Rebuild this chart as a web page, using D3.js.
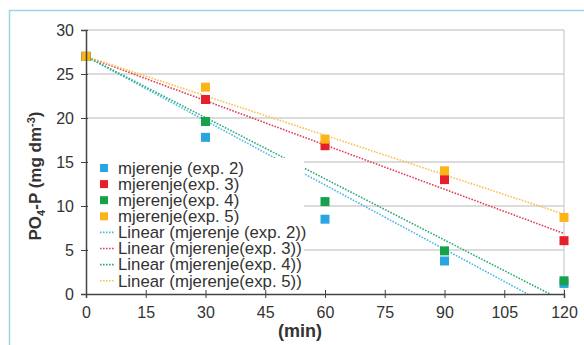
<!DOCTYPE html>
<html>
<head>
<meta charset="utf-8">
<script src="https://cdn.jsdelivr.net/npm/d3@7"></script>
<style>
  body { margin: 0; background: #fff; }
  svg { display: block; font-family: "Liberation Sans", Arial, sans-serif; }
  .tick text { font-size: 16px; fill: #333; }
</style>
</head>
<body>
<script>
// measurement times (min)
var times = [0, 30, 60, 90, 120];

// PO4-P concentration, one list per experiment
var exp2 = [27, 17.8, 8.5, 3.75, 1.2];
var exp3 = [27, 22.1, 16.85, 13.0, 6.06];
var exp4 = [27, 19.6, 10.5, 4.9, 1.5];
var exp5 = [27, 23.5, 17.6, 14.0, 8.7];

var seriesNames = ["mjerenje (exp. 2)", "mjerenje(exp. 3)", "mjerenje(exp. 4)", "mjerenje(exp. 5)"];
var trendNames = ["Linear (mjerenje (exp. 2))", "Linear (mjerenje(exp. 3))",
                  "Linear (mjerenje(exp. 4))", "Linear (mjerenje(exp. 5))"];
var xTicks = [0, 15, 30, 45, 60, 75, 90, 105, 120];
var yTicks = [0, 5, 10, 15, 20, 25, 30];

var markColors = ["#2aa5e0", "#e5202b", "#14a34b", "#fbb517"];
var lineColors = ["#4fb8e6", "#e0405a", "#2eab78", "#fbc050"];

var width = 584, height = 345;
var margin = {top: 30, right: 20, bottom: 51, left: 86};

var svg = d3.select("body").append("svg")
    .attr("width", width)
    .attr("height", height);

// light blue frame (left and top only)
svg.append("path")
    .attr("d", "M9.5,345V10.5H584")
    .attr("fill", "none")
    .attr("stroke", "#9dd6e3")
    .attr("stroke-width", 1.5);

var x = d3.scaleLinear().domain([0, 120]).range([margin.left, width - margin.right]);
var y = d3.scaleLinear().domain([0, 30]).range([height - margin.bottom, margin.top]);

// gridlines
svg.append("g").selectAll("line")
    .data(yTicks.filter(function(d) { return d > 0; }))
    .enter().append("line")
    .attr("x1", x(0)).attr("x2", x(120))
    .attr("y1", function(d) { return y(d); })
    .attr("y2", function(d) { return y(d); })
    .attr("stroke", "#cfcfcf")
    .attr("stroke-width", 1.3);

// right border of plot area
svg.append("line")
    .attr("x1", x(120)).attr("x2", x(120))
    .attr("y1", y(30)).attr("y2", y(0))
    .attr("stroke", "#cfcfcf")
    .attr("stroke-width", 1.3);

var allSeries = [exp2, exp3, exp4, exp5];

// linear trendlines with intercept fixed at the start value
var trends = allSeries.map(function(vals, i) {
  var b = vals[0], num = 0, den = 0;
  times.forEach(function(t, j) { num += t * (vals[j] - b); den += t * t; });
  var slope = num / den;
  var xEnd = slope < 0 ? Math.min(120, -b / slope) : 120;
  return {i: i, pts: [[0, b], [xEnd, b + slope * xEnd]]};
});

var line = d3.line()
    .x(function(d) { return x(d[0]); })
    .y(function(d) { return y(d[1]); });

svg.append("g").selectAll("path")
    .data(trends)
    .enter().append("path")
    .attr("d", function(d) { return line(d.pts); })
    .attr("fill", "none")
    .attr("stroke", function(d) { return lineColors[d.i]; })
    .attr("stroke-width", 1.6)
    .attr("stroke-dasharray", "1.6,1.4");

// markers
var s = 9;
allSeries.forEach(function(vals, i) {
  svg.append("g").selectAll("rect")
      .data(vals)
      .enter().append("rect")
      .attr("x", function(d, j) { return x(times[j]) - s / 2; })
      .attr("y", function(d) { return y(d) - s / 2; })
      .attr("width", s).attr("height", s)
      .attr("fill", markColors[i]);
});

// legend box
var lg = svg.append("g");
lg.append("rect")
    .attr("x", 88).attr("y", 158)
    .attr("width", 216).attr("height", 133)
    .attr("fill", "#fff");

var rowY = function(k) { return 168 + k * 16.1; };
seriesNames.forEach(function(n, i) {
  lg.append("rect")
      .attr("x", 100).attr("y", rowY(i) - 4)
      .attr("width", 8).attr("height", 8)
      .attr("fill", markColors[i]);
  lg.append("text")
      .attr("x", 118).attr("y", rowY(i))
      .attr("dy", "0.35em")
      .attr("font-size", 16.8)
      .attr("fill", "#333")
      .text(n);
});
trendNames.forEach(function(n, i) {
  var yy = rowY(i + 4);
  lg.append("line")
      .attr("x1", 100).attr("x2", 115)
      .attr("y1", yy).attr("y2", yy)
      .attr("stroke", lineColors[i])
      .attr("stroke-width", 1.6)
      .attr("stroke-dasharray", "1.6,1.4");
  lg.append("text")
      .attr("x", 118).attr("y", yy)
      .attr("dy", "0.35em")
      .attr("font-size", 16.8)
      .attr("fill", "#333")
      .text(n);
});

// axes
var xAxis = svg.append("g")
    .attr("transform", "translate(0," + y(0) + ")")
    .call(d3.axisBottom(x).tickValues(xTicks).tickSize(4).tickPadding(9));
xAxis.selectAll(".tick line").attr("y1", -4).attr("stroke", "#444");
xAxis.select(".domain").attr("stroke", "#444").attr("stroke-width", 1.5);

var yAxis = svg.append("g")
    .attr("transform", "translate(" + x(0) + ",0)")
    .call(d3.axisLeft(y).tickValues(yTicks).tickSize(5).tickPadding(7));
yAxis.selectAll(".tick line").attr("x1", -5).attr("x2", 2).attr("stroke", "#444");
yAxis.select(".domain").attr("stroke", "#444").attr("stroke-width", 1.5);

// axis titles
svg.append("text")
    .attr("x", 300).attr("y", 337)
    .attr("text-anchor", "middle")
    .attr("font-size", 18)
    .attr("font-weight", "bold")
    .attr("fill", "#333")
    .text("(min)");

var yt = svg.append("text")
    .attr("transform", "translate(41,176) rotate(-90)")
    .attr("text-anchor", "middle")
    .attr("font-size", 17)
    .attr("font-weight", "bold")
    .attr("fill", "#333");
yt.append("tspan").text("PO");
yt.append("tspan").attr("font-size", 11).attr("dy", 4).text("4");
yt.append("tspan").attr("dy", -4).text("-P (mg dm");
yt.append("tspan").attr("font-size", 11).attr("dy", -6).text("-3");
yt.append("tspan").attr("dy", 6).text(")");
</script>
</body>
</html>
